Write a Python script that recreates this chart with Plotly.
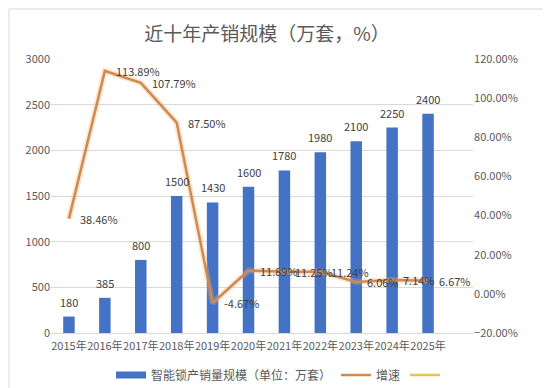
import plotly.graph_objects as go
from plotly.subplots import make_subplots

years = ["2015年", "2016年", "2017年", "2018年", "2019年", "2020年",
         "2021年", "2022年", "2023年", "2024年", "2025年"]
volume = [180, 385, 800, 1500, 1430, 1600, 1780, 1980, 2100, 2250, 2400]
growth = [38.46, 113.89, 107.79, 87.50, -4.67, 11.89, 11.25, 11.24, 6.06, 7.14, 6.67]
growth_frac = [g / 100 for g in growth]

FONT = "Noto Sans CJK SC, Microsoft YaHei, sans-serif"
GRAY = "#595959"
LABEL = "#404040"
BLUE = "#4472C4"
ORANGE = "#D08A50"

fig = make_subplots(specs=[[{"secondary_y": True}]])

fig.add_trace(go.Bar(
    x=years, y=volume, name="智能锁产销量规模（单位：万套）",
    marker=dict(color=BLUE, line=dict(width=0)),
    showlegend=False,
), secondary_y=False)

# legend swatch for bars (wide rectangle like the reference)
fig.add_trace(go.Scatter(
    x=years, y=[None] * len(years), name="智能锁产销量规模（单位：万套）",
    mode="lines", line=dict(color=BLUE, width=7),
), secondary_y=False)

# soft glow under the line
fig.add_trace(go.Scatter(
    x=years, y=growth_frac, mode="lines",
    line=dict(color="rgba(240,175,120,0.30)", width=6),
    showlegend=False, hoverinfo="skip",
), secondary_y=True)

fig.add_trace(go.Scatter(
    x=years, y=growth_frac, name="增速", mode="lines",
    line=dict(color=ORANGE, width=2.5),
), secondary_y=True)

fig.add_trace(go.Scatter(
    x=years, y=[None] * len(years), name=" ", mode="lines",
    line=dict(color="#E8C44A", width=2.5),
), secondary_y=True)

annotations = []
for yr, v in zip(years, volume):
    annotations.append(dict(x=yr, y=v, xref="x", yref="y", text=str(v),
                            showarrow=False, yshift=15, yanchor="middle",
                            font=dict(size=11, color=LABEL, family=FONT)))
for yr, g in zip(years, growth):
    annotations.append(dict(x=yr, y=g / 100, xref="x", yref="y2", text=f"{g:.2f}%",
                            showarrow=False, xanchor="left", xshift=9,
                            yanchor="middle",
                            font=dict(size=11, color=LABEL, family=FONT)))

fig.update_layout(
    width=551, height=388,
    margin=dict(l=43, r=59, t=51, b=63),
    paper_bgcolor="white", plot_bgcolor="white",
    font=dict(family=FONT, size=11, color=GRAY),
    title=dict(text="近十年产销规模（万套，%）", xref="container", yref="container",
               x=259 / 551, xanchor="center",
               y=1 - 26 / 388, yanchor="middle",
               font=dict(size=19, color=GRAY, family=FONT)),
    bargap=0.68,
    showlegend=True,
    legend=dict(orientation="h", xref="container", yref="container",
                x=274 / 551, xanchor="center", y=1 - 367 / 388, yanchor="middle",
                font=dict(size=12, color=GRAY, family=FONT),
                itemwidth=30, tracegroupgap=0),
    annotations=annotations,
    shapes=[dict(type="rect", xref="paper", yref="paper",
                 x0=-42 / 449, x1=1 + 57 / 449, y0=-62 / 274, y1=1 + 50 / 274,
                 line=dict(color="#D9D9D9", width=1), layer="below")],
)

fig.update_xaxes(showgrid=False, showline=True, linecolor="#D9D9D9", linewidth=1,
                 ticks="", tickangle=0, automargin=False, ticklabelstandoff=3,
                 tickfont=dict(size=11, color=GRAY))
fig.update_yaxes(range=[0, 3000], dtick=500, showgrid=True, gridcolor="#D9D9D9",
                 gridwidth=1, zeroline=False, showline=False, ticks="",
                 automargin=False,
                 tickfont=dict(size=11, color=GRAY), secondary_y=False)
fig.update_yaxes(range=[-0.2, 1.2], dtick=0.2, tickformat=".2%", showgrid=False,
                 zeroline=False, showline=False, ticks="", automargin=False,
                 tickfont=dict(size=11, color=GRAY), secondary_y=True)

fig.write_html("out.html")
